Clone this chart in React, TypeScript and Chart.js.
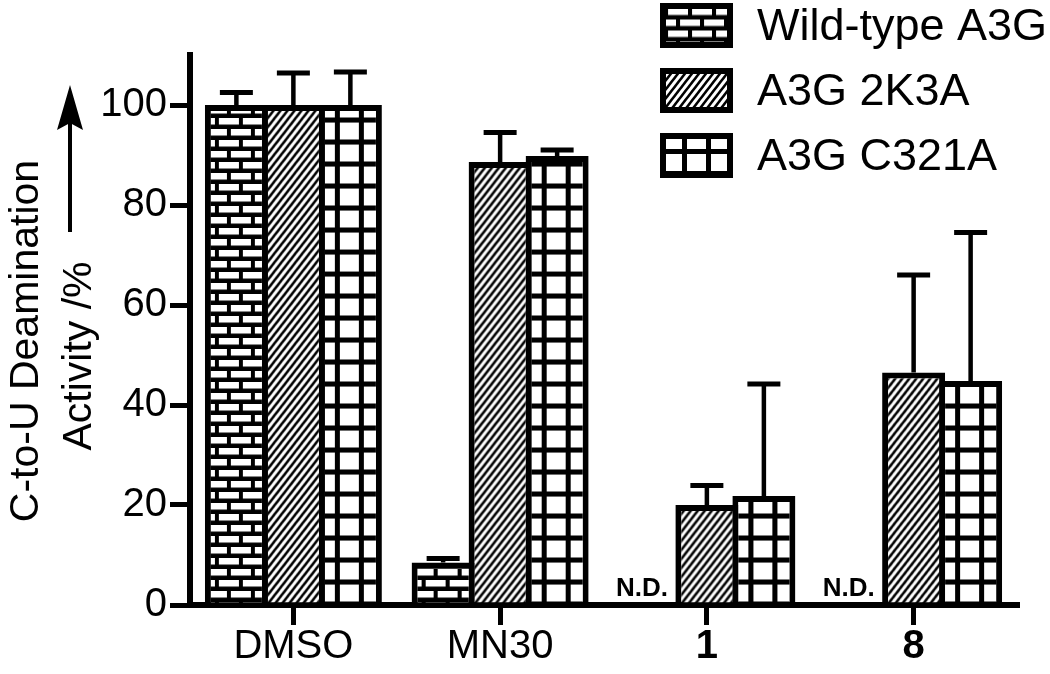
import React, { useEffect, useRef } from 'react';
import { Chart, registerables } from 'chart.js';

Chart.register(...registerables);

// ---- data ----
const categories = ['DMSO', 'MN30', '1', '8'];
const boldCategories = ['1', '8'];
const seriesNames = ['Wild-type A3G', 'A3G 2K3A', 'A3G C321A'];
const wildType = [100, 8.5, null, null];
const mutant2K3A = [100, 88.6, 20, 46.5];
const mutantC321A = [100, 89.8, 21.8, 44.8];
const wildTypeErr = [2.5, 0.8, null, null];
const mutant2K3AErr = [6.4, 5.9, 3.9, 19.5];
const mutantC321AErr = [6.6, 1.2, 22.4, 29.7];
const yMin = 0;
const yMax = 110;
const yStep = 20;
const notDetected = 'N.D.';
const yTitleLine1 = 'C-to-U Deamination';
const yTitleLine2 = 'Activity /%';

const FONT = "'Liberation Sans', Arial, Helvetica, sans-serif";
const BORDER = 6;

// ---- pattern tiles ----
function brickTile() {
  const c = document.createElement('canvas');
  c.width = 24; c.height = 22;
  const g = c.getContext('2d')!;
  g.fillStyle = '#000'; g.fillRect(0, 0, 24, 22);
  g.fillStyle = '#fff';
  g.fillRect(2, 0, 20, 6.5);
  g.fillRect(-10, 11, 20, 6.5);
  g.fillRect(14, 11, 20, 6.5);
  return c;
}
function hatchTile() {
  const w = 7, h = 9;
  const c = document.createElement('canvas');
  c.width = w; c.height = h;
  const g = c.getContext('2d')!;
  g.fillStyle = '#fff'; g.fillRect(0, 0, w, h);
  g.strokeStyle = '#000'; g.lineWidth = 2.6;
  for (const x0 of [-w, 0, w]) {
    g.beginPath();
    g.moveTo(x0 - w, 2 * h);
    g.lineTo(x0 + 2 * w, -h);
    g.stroke();
  }
  return c;
}
function gridTile() {
  const c = document.createElement('canvas');
  c.width = 24; c.height = 22;
  const g = c.getContext('2d')!;
  g.fillStyle = '#fff'; g.fillRect(0, 0, 24, 22);
  g.fillStyle = '#000';
  g.fillRect(0, 0, 5, 22);
  g.fillRect(0, 0, 24, 5);
  return c;
}

type Tiles = HTMLCanvasElement[];
function makePattern(ctx: CanvasRenderingContext2D, tiles: Tiles, kind: number, left: number, bottom: number) {
  const p = ctx.createPattern(tiles[kind], 'repeat')!;
  let tx = left, ty = bottom;
  if (kind === 0) { tx = left; ty = bottom - 11.5; }
  if (kind === 1) { tx = left; ty = bottom; }
  if (kind === 2) { tx = left + 16; ty = bottom - 23; }
  p.setTransform(new DOMMatrix([1, 0, 0, 1, tx, ty]));
  return p;
}

export default function App() {
  const ref = useRef<HTMLCanvasElement | null>(null);

  useEffect(() => {
    const canvas = ref.current!;
    const tiles: Tiles = [brickTile(), hatchTile(), gridTile()];
    const errors = [wildTypeErr, mutant2K3AErr, mutantC321AErr];

    const patternPlugin = {
      id: 'patternFill',
      beforeDatasetsDraw(chart: any) {
        const ctx = chart.ctx;
        chart.data.datasets.forEach((_: any, di: number) => {
          const meta = chart.getDatasetMeta(di);
          meta.data.forEach((el: any) => {
            if (!el.options) return;
            el.options.backgroundColor = makePattern(ctx, tiles, di, el.x - el.width / 2, el.base);
          });
        });
      },
    };

    const errorPlugin = {
      id: 'errorBars',
      afterDatasetsDraw(chart: any) {
        const ctx = chart.ctx;
        const y = chart.scales.y;
        ctx.save();
        ctx.strokeStyle = '#000';
        ctx.fillStyle = '#000';
        chart.data.datasets.forEach((ds: any, di: number) => {
          const meta = chart.getDatasetMeta(di);
          meta.data.forEach((el: any, i: number) => {
            const v = ds.data[i];
            const e = errors[di][i];
            if (v == null) {
              ctx.font = `bold 26px ${FONT}`;
              ctx.textAlign = 'center';
              ctx.textBaseline = 'alphabetic';
              ctx.fillText(notDetected, el.x - 8, chart.chartArea.bottom - 9);
              return;
            }
            if (e == null) return;
            const top = y.getPixelForValue(v + e);
            ctx.lineWidth = 4.5;
            ctx.beginPath();
            ctx.moveTo(el.x, el.y);
            ctx.lineTo(el.x, top);
            ctx.stroke();
            ctx.lineWidth = 5;
            ctx.beginPath();
            ctx.moveTo(el.x - 16.5, top);
            ctx.lineTo(el.x + 16.5, top);
            ctx.stroke();
          });
        });
        ctx.restore();
      },
    };

    const decorPlugin = {
      id: 'decor',
      afterDraw(chart: any) {
        const ctx = chart.ctx;
        const area = chart.chartArea;
        ctx.save();
        // legend
        const boxLeft = 660, boxW = 73, boxH = 45, rowTop = 3, rowGap = 65;
        seriesNames.forEach((name, i) => {
          const top = rowTop + i * rowGap;
          ctx.fillStyle = '#000';
          ctx.fillRect(boxLeft, top, boxW, boxH);
          ctx.fillStyle = makePattern(ctx, tiles, i, boxLeft + BORDER, top + boxH - BORDER);
          ctx.fillRect(boxLeft + BORDER, top + BORDER, boxW - 2 * BORDER, boxH - 2 * BORDER);
          ctx.fillStyle = '#000';
          ctx.font = `45px ${FONT}`;
          ctx.textAlign = 'left';
          ctx.textBaseline = 'middle';
          ctx.fillText(name, 757, top + boxH / 2 + 2);
        });
        // y title
        const midY = (area.top + area.bottom) / 2;
        ctx.font = `41px ${FONT}`;
        ctx.textAlign = 'center';
        ctx.textBaseline = 'alphabetic';
        ctx.save();
        ctx.translate(38, midY + 11);
        ctx.rotate(-Math.PI / 2);
        ctx.fillText(yTitleLine1, 0, 0);
        ctx.restore();
        ctx.save();
        ctx.translate(91, midY + 26);
        ctx.rotate(-Math.PI / 2);
        ctx.fillText(yTitleLine2, 0, 0);
        ctx.restore();
        // arrow
        const ax = 70, tipY = 85, baseY = 232;
        ctx.strokeStyle = '#000';
        ctx.lineWidth = 4;
        ctx.beginPath();
        ctx.moveTo(ax, baseY);
        ctx.lineTo(ax, tipY + 30);
        ctx.stroke();
        ctx.beginPath();
        ctx.moveTo(ax, tipY);
        ctx.lineTo(ax - 13, tipY + 45);
        ctx.lineTo(ax, tipY + 38);
        ctx.lineTo(ax + 13, tipY + 45);
        ctx.closePath();
        ctx.fill();
        ctx.restore();
      },
    };

    const mkDs = (label: string, data: (number | null)[]) => ({
      label,
      data,
      backgroundColor: () => '#fff',
      borderColor: '#000',
      borderWidth: BORDER,
      borderSkipped: 'start',
      categoryPercentage: 171 / 206.75,
      barPercentage: 63 / 57,
    });

    const chart = new Chart(canvas, {
      type: 'bar',
      data: {
        labels: categories,
        datasets: [
          mkDs(seriesNames[0], wildType),
          mkDs(seriesNames[1], mutant2K3A),
          mkDs(seriesNames[2], mutantC321A),
        ],
      },
      options: {
        responsive: false,
        animation: false,
        devicePixelRatio: 1,
        layout: { padding: { left: 0, top: 55, right: 33, bottom: 0 } },
        plugins: { legend: { display: false }, tooltip: { enabled: false } },
        scales: {
          x: {
            type: 'category',
            offset: true,
            grid: {
              display: true,
              drawOnChartArea: false,
              drawTicks: true,
              offset: false,
              tickLength: 20,
              tickWidth: 5,
              lineWidth: 5,
              tickColor: '#000',
              color: '#000',
            },
            border: { display: true, width: 6, color: '#000' },
            ticks: {
              color: '#000',
              padding: -2,
              font: (c: any) => ({
                family: FONT,
                size: 40,
                weight: boldCategories.includes(categories[c.index]) ? 'bold' : 'normal',
              }),
            },
            afterFit: (s: any) => { s.height = 69; },
          },
          y: {
            min: yMin,
            max: yMax,
            grid: {
              display: true,
              drawOnChartArea: false,
              drawTicks: true,
              tickLength: 20,
              tickWidth: 5,
              lineWidth: 5,
              tickColor: '#000',
              color: '#000',
            },
            border: { display: true, width: 6, color: '#000' },
            ticks: {
              stepSize: yStep,
              includeBounds: false,
              color: '#000',
              padding: 3,
              font: { family: FONT, size: 40 },
            },
            afterFit: (s: any) => { s.width = 190; },
          },
        },
      },
      plugins: [patternPlugin, errorPlugin, decorPlugin],
    } as any);

    return () => chart.destroy();
  }, []);

  return (
    <div style={{ position: 'absolute', left: 0, top: 0, width: 1050, height: 674, background: '#fff' }}>
      <canvas ref={ref} width={1050} height={674} style={{ display: 'block' }} />
    </div>
  );
}
